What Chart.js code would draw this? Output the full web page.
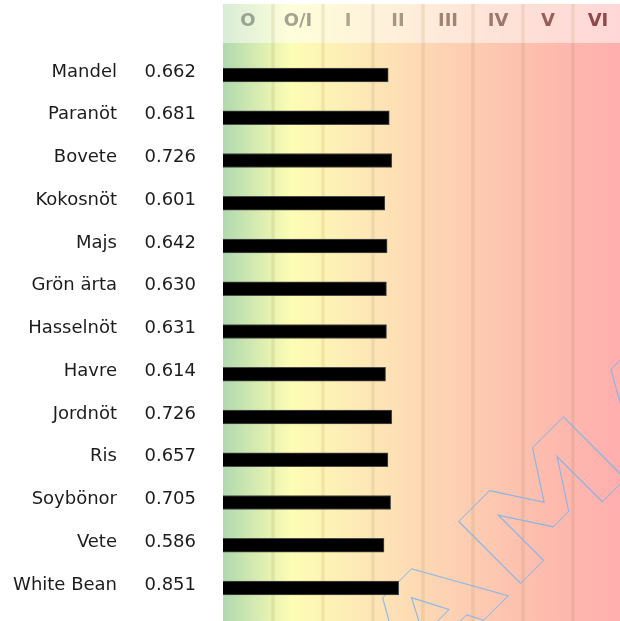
<!DOCTYPE html>
<html>
<head>
<meta charset="utf-8">
<script src="https://cdn.jsdelivr.net/npm/chart.js@4/dist/chart.umd.min.js"></script>
<style>
    html, body { margin: 0; padding: 0; background: #ffffff; overflow: hidden; }
    #wrap { position: relative; width: 620px; height: 621px; overflow: hidden; }
    #chart { display: block; }
</style>
</head>
<body>
<div id="wrap"><canvas id="chart" width="623" height="621"></canvas></div>
<script>
// Foods, their scores, and the class columns along the top
const FOODS = ['Mandel', 'Paranöt', 'Bovete', 'Kokosnöt', 'Majs', 'Grön ärta', 'Hasselnöt',
    'Havre', 'Jordnöt', 'Ris', 'Soybönor', 'Vete', 'White Bean'];
const SCORES = [0.662, 0.681, 0.726, 0.601, 0.642, 0.630, 0.631, 0.614, 0.726, 0.657, 0.705, 0.586, 0.851];
const CLASSES = ['O', 'O/I', 'I', 'II', 'III', 'IV', 'V', 'VI'];
const CLASS_COLORS = ['#9aa294', '#a4a392', '#b3a48e', '#a99784', '#9f8474', '#9c786c', '#985f58', '#8e4a4a'];

// value axis range (bars start at the left edge of the plot)
const X_MIN = -2.315;
const X_MAX = 4.892;

const HEADER_TOP = 4;
const HEADER_BOTTOM = 43;

function makeGradient(ctx, left, right) {
    const g = ctx.createLinearGradient(left, 0, right, 0);
    g.addColorStop(0, '#b0d9ae');
    g.addColorStop(0.17, '#fdfdb4');
    g.addColorStop(0.38, '#fde5b6');
    g.addColorStop(0.6, '#fdceb2');
    g.addColorStop(0.8, '#fdbcad');
    g.addColorStop(1, '#ffaeae');
    return g;
}

// Scales add edge padding for their ticks; the layout here is fixed, so drop it
function noEdgePadding(scale) {
    scale.paddingTop = 0;
    scale.paddingBottom = 0;
    scale.paddingLeft = 0;
    scale.paddingRight = 0;
}

// Background bands + column separators, drawn before everything else
const backgroundPlugin = {
    id: 'classBackground',
    beforeDraw(chart) {
        const ctx = chart.ctx;
        const area = chart.chartArea;
        const cls = chart.scales.x2;
        const h = chart.height;
        ctx.save();
        const grad = makeGradient(ctx, area.left, area.right);
        // header band (paler)
        ctx.fillStyle = grad;
        ctx.fillRect(area.left, HEADER_TOP, area.right - area.left, HEADER_BOTTOM - HEADER_TOP);
        ctx.fillStyle = 'rgba(255, 255, 255, 0.5)';
        ctx.fillRect(area.left, HEADER_TOP, area.right - area.left, HEADER_BOTTOM - HEADER_TOP);
        // main band
        ctx.fillStyle = grad;
        ctx.fillRect(area.left, HEADER_BOTTOM, area.right - area.left, h - HEADER_BOTTOM);
        // column separators
        ctx.strokeStyle = 'rgba(150, 115, 60, 0.12)';
        ctx.lineWidth = 3.5;
        for (let i = 1; i < CLASSES.length; i++) {
            const x = (cls.getPixelForValue(i - 1) + cls.getPixelForValue(i)) / 2;
            ctx.beginPath();
            ctx.moveTo(x, HEADER_TOP);
            ctx.lineTo(x, h);
            ctx.stroke();
        }
        ctx.restore();
    },
    beforeDatasetsDraw(chart) {
        // faint outlined watermark lettering in the lower right
        const ctx = chart.ctx;
        const area = chart.chartArea;
        ctx.save();
        ctx.beginPath();
        ctx.rect(area.left, HEADER_BOTTOM, area.right - area.left, chart.height - HEADER_BOTTOM);
        ctx.clip();
        ctx.translate(409, 695);
        ctx.rotate(-Math.PI / 4);
        ctx.scale(1.52, 1);
        ctx.font = 'bold 120px "DejaVu Sans"';
        ctx.textBaseline = 'alphabetic';
        ctx.strokeStyle = 'rgba(120, 180, 240, 0.85)';
        ctx.lineWidth = 0.8;
        ctx.strokeText('AMA', 0, 0);
        ctx.restore();
    }
};

const ctx = document.getElementById('chart').getContext('2d');

new Chart(ctx, {
    type: 'bar',
    data: {
        labels: FOODS,
        datasets: [{
            label: 'Score',
            data: SCORES,
            base: X_MIN,
            backgroundColor: '#000000',
            borderColor: '#4a4a4a',
            borderWidth: 1,
            barThickness: 14,
            xAxisID: 'x',
            yAxisID: 'y'
        }]
    },
    options: {
        indexAxis: 'y',
        responsive: false,
        devicePixelRatio: 1,
        animation: false,
        layout: {
            padding: { top: 0, right: 0, bottom: 11.6, left: 0 }
        },
        plugins: {
            legend: { display: false },
            tooltip: { enabled: false },
            title: { display: false }
        },
        scales: {
            x: {
                type: 'linear',
                min: X_MIN,
                max: X_MAX,
                display: false
            },
            x2: {
                type: 'category',
                position: 'top',
                labels: CLASSES,
                offset: true,
                grid: { display: false, drawTicks: false },
                border: { display: false },
                ticks: {
                    padding: 21,
                    maxRotation: 0,
                    autoSkip: false,
                    font: { family: '"DejaVu Sans"', size: 18, weight: 'bold' },
                    color: (c) => CLASS_COLORS[c.index]
                },
                afterFit: (scale) => {
                    scale.height = 53.6;
                    noEdgePadding(scale);
                }
            },
            y: {
                type: 'category',
                position: 'left',
                weight: 2,
                grid: { display: false, drawTicks: false },
                border: { display: false },
                ticks: {
                    padding: 27,
                    labelOffset: -3,
                    autoSkip: false,
                    font: { family: '"DejaVu Sans"', size: 18 },
                    color: '#1c1c1c'
                },
                afterFit: (scale) => {
                    scale.width = 144;
                    noEdgePadding(scale);
                }
            },
            y2: {
                type: 'category',
                position: 'left',
                weight: 1,
                labels: SCORES.map(v => v.toFixed(3)),
                offset: true,
                grid: { display: false, drawTicks: false },
                border: { display: false },
                ticks: {
                    padding: 27,
                    labelOffset: -3,
                    autoSkip: false,
                    font: { family: '"DejaVu Sans"', size: 18 },
                    color: '#1c1c1c'
                },
                afterFit: (scale) => {
                    scale.width = 79;
                    noEdgePadding(scale);
                }
            }
        }
    },
    plugins: [backgroundPlugin]
});
</script>
</body>
</html>
